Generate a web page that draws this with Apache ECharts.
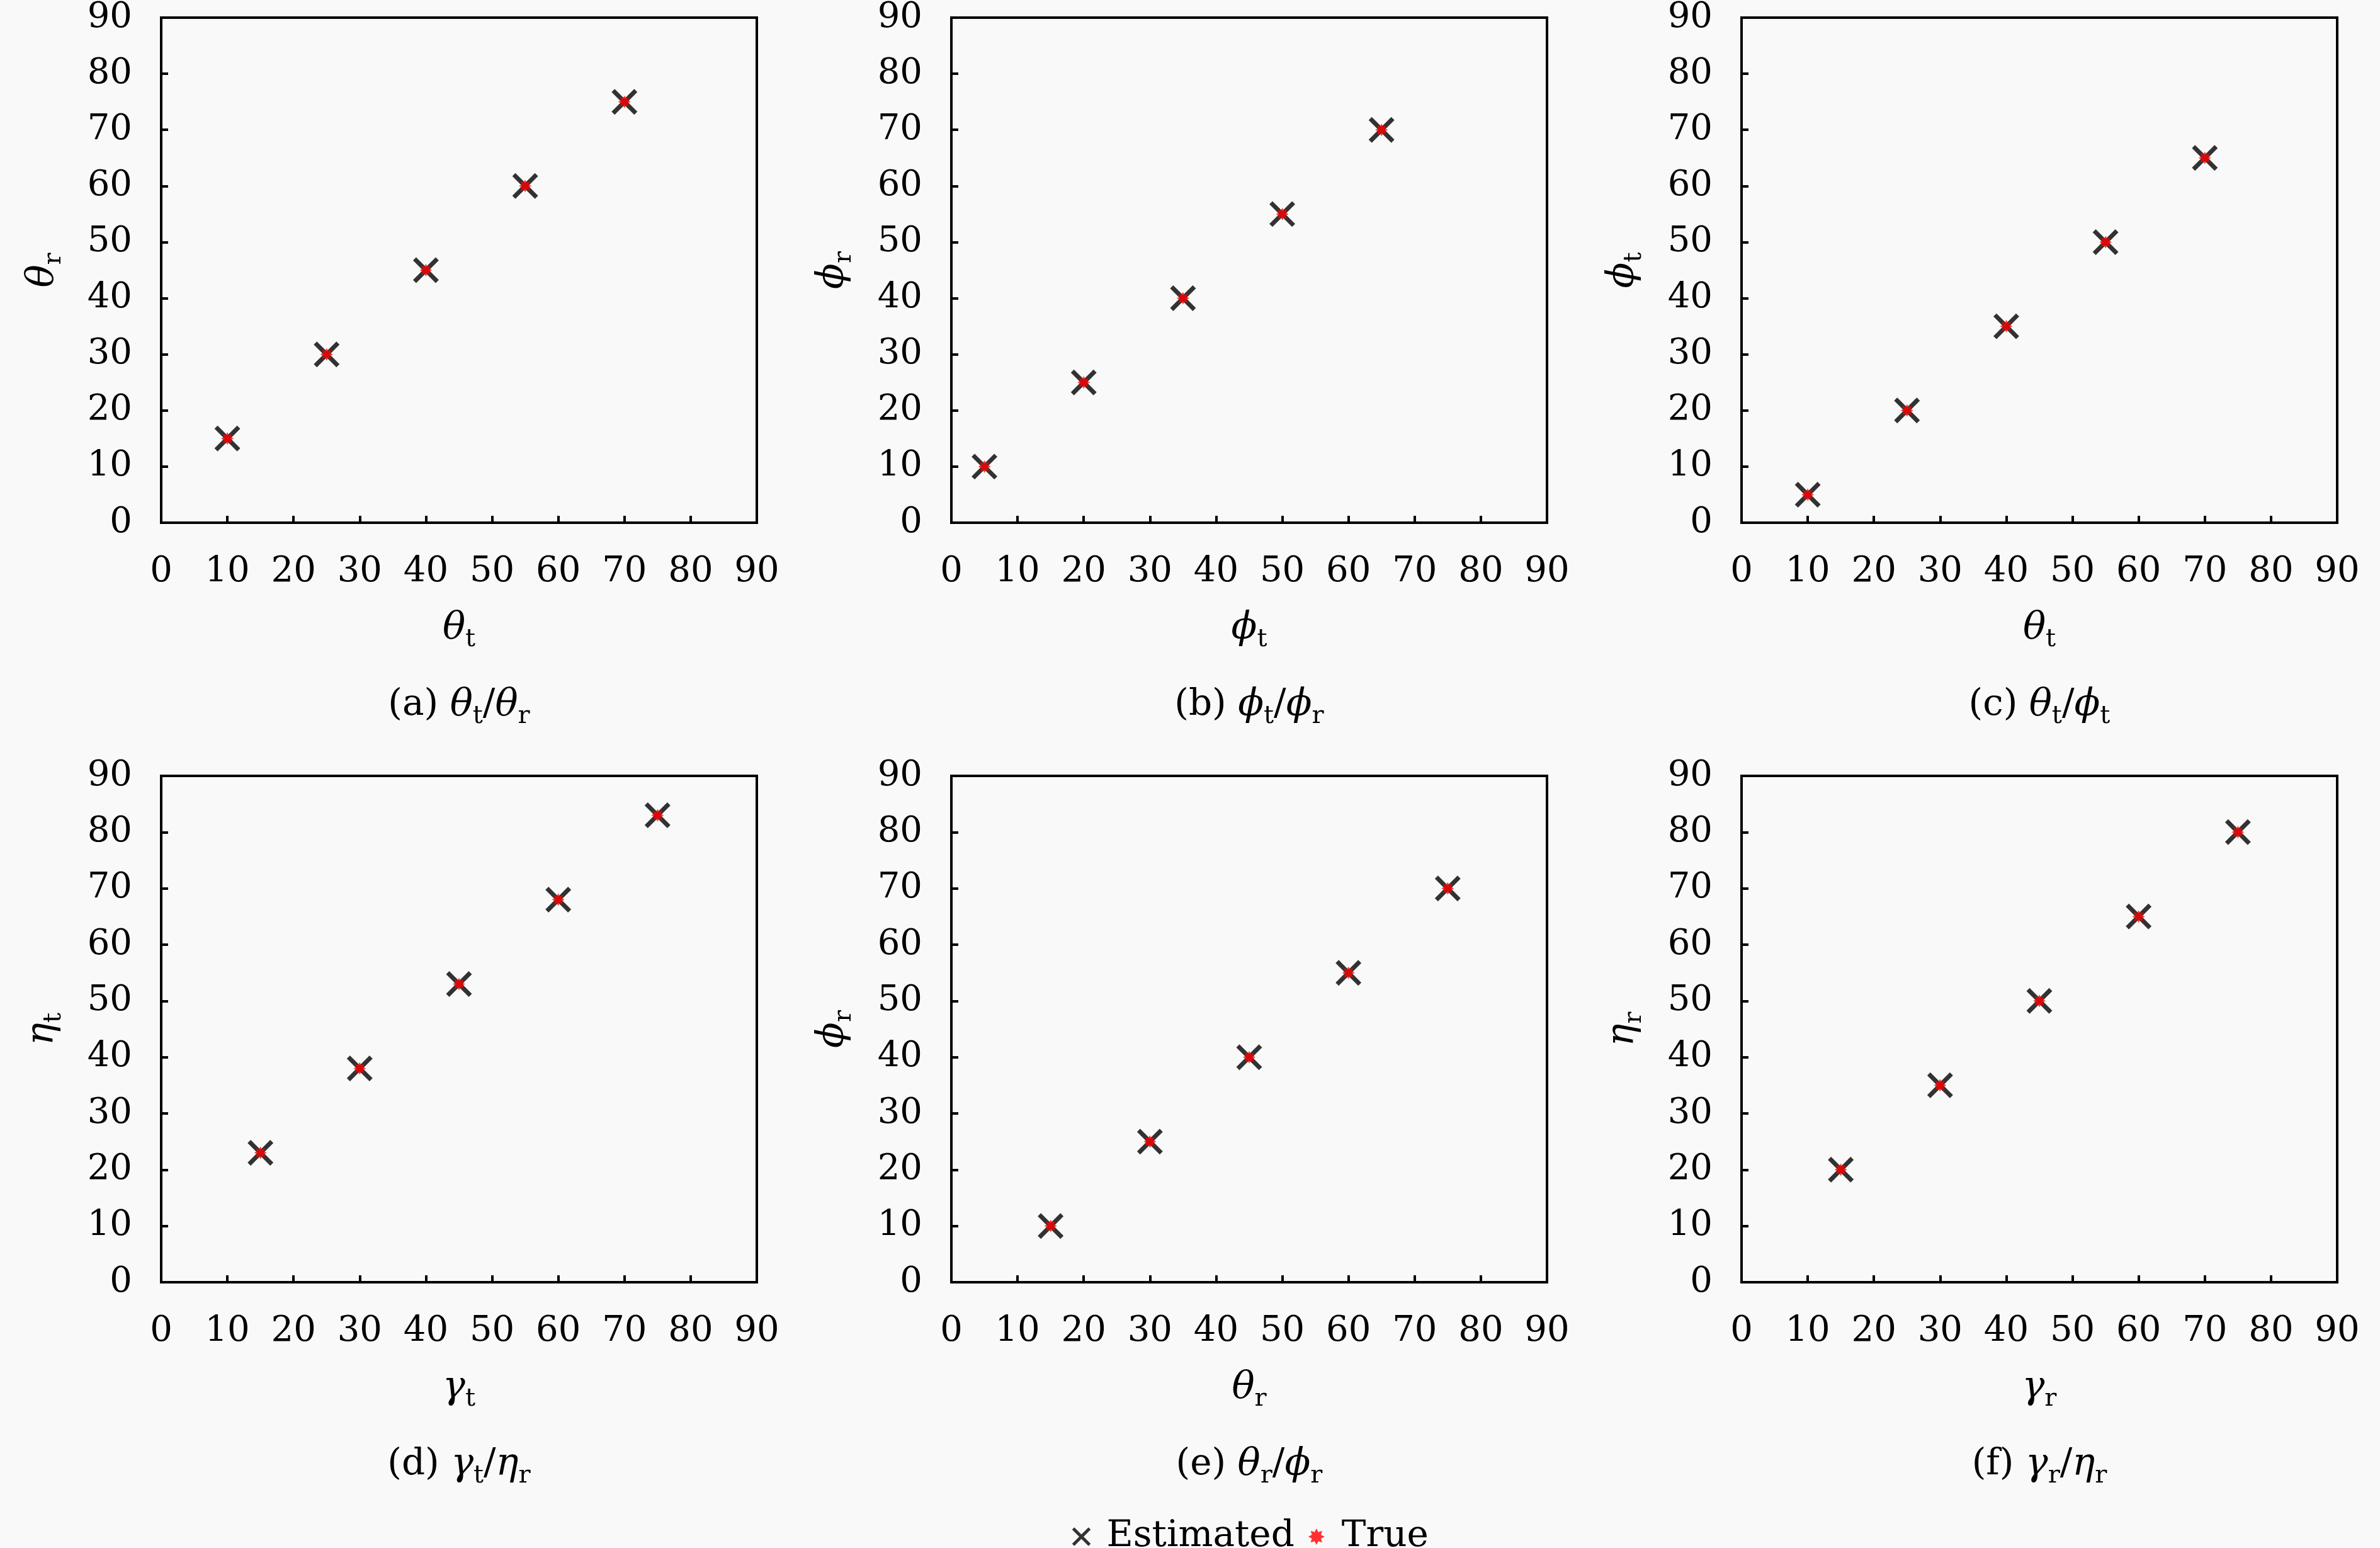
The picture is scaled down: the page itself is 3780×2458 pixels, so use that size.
<!DOCTYPE html>
<html><head><meta charset="utf-8">
<script src="https://cdn.jsdelivr.net/npm/echarts@6/dist/echarts.min.js"></script>
<style>html,body{margin:0;padding:0;background:#f9f9f9}#c{width:3780px;height:2458px}</style>
</head><body><div id="c"></div>
<script>
// ---- data ----
const estA = [[10,15],[25,30],[40,45],[55,60],[70,75]];
const trueA = [[10,15],[25,30],[40,45],[55,60],[70,75]];
const estB = [[5,10],[20,25],[35,40],[50,55],[65,70]];
const trueB = [[5,10],[20,25],[35,40],[50,55],[65,70]];
const estC = [[10,5],[25,20],[40,35],[55,50],[70,65]];
const trueC = [[10,5],[25,20],[40,35],[55,50],[70,65]];
const estD = [[15,23],[30,38],[45,53],[60,68],[75,83]];
const trueD = [[15,23],[30,38],[45,53],[60,68],[75,83]];
const estE = [[15,10],[30,25],[45,40],[60,55],[75,70]];
const trueE = [[15,10],[30,25],[45,40],[60,55],[75,70]];
const estF = [[15,20],[30,35],[45,50],[60,65],[75,80]];
const trueF = [[15,20],[30,35],[45,50],[60,65],[75,80]];
const estimated = [estA, estB, estC, estD, estE, estF];
const truth = [trueA, trueB, trueC, trueD, trueE, trueF];
const xNames = [['θ','t'],['ϕ','t'],['θ','t'],['γ','t'],['θ','r'],['γ','r']];
const yNames = [['θ','r'],['ϕ','r'],['ϕ','t'],['η','t'],['ϕ','r'],['η','r']];
const captionLetters = ['a','b','c','d','e','f'];
const captionParts = [[['θ','t'],['θ','r']],[['ϕ','t'],['ϕ','r']],[['θ','t'],['ϕ','t']],
                      [['γ','t'],['η','r']],[['θ','r'],['ϕ','r']],[['γ','r'],['η','r']]];
const axisMin = 0, axisMax = 90, axisStep = 10;
const seriesNames = ['Estimated','True'];

// ---- layout ----
const FONT = 'DejaVu Serif';
const colLefts = [256, 1511, 2766];
const rowTops = [26, 1232];
const W = 946, H = 804;
const rich = {
  g: {fontFamily: FONT, fontSize: 60, fontStyle: 'italic', color: '#000'},
  s: {fontFamily: FONT, fontSize: 40, color: '#000', padding: [36,0,0,0]},
  n: {fontFamily: FONT, fontSize: 58, color: '#000'}
};
function sym(p){ return '{g|' + p[0] + '}{s|' + p[1] + '}'; }

let starPath = 'path://';
for (let i = 0; i < 16; i++) {
  const r = i % 2 === 0 ? 10 : 6;
  const a = Math.PI * 2 * i / 16;
  starPath += (i === 0 ? 'M' : 'L') + (10 + r * Math.cos(a)).toFixed(3) + ',' + (10 + r * Math.sin(a)).toFixed(3);
}
starPath += 'Z';
const crossPath = 'path://M0,0L10,10M10,0L0,10';

const grids = [], xAxes = [], yAxes = [], series = [], graphics = [];
for (let i = 0; i < 6; i++) {
  const col = i % 3, row = Math.floor(i / 3);
  grids.push({left: colLefts[col], top: rowTops[row], width: W, height: H,
    show: true, borderColor: '#000', borderWidth: 4, backgroundColor: 'transparent'});
  const axisCommon = {
    gridIndex: i, type: 'value', min: axisMin, max: axisMax, interval: axisStep,
    axisLine: {show: true, lineStyle: {color: '#000', width: 4}},
    axisTick: {show: true, inside: true, length: 11, lineStyle: {color: '#000', width: 4}},
    splitLine: {show: false},
    axisLabel: {fontFamily: FONT, fontSize: 56, color: '#000'},
    nameLocation: 'middle', nameTextStyle: {rich: rich}
  };
  xAxes.push(Object.assign({}, axisCommon, {
    name: sym(xNames[i]), nameGap: 130,
    axisLabel: Object.assign({}, axisCommon.axisLabel, {margin: 50})
  }));
  yAxes.push(Object.assign({}, axisCommon, {
    name: sym(yNames[i]), nameGap: 150, nameRotate: 90,
    axisLabel: Object.assign({}, axisCommon.axisLabel, {margin: 46})
  }));
  series.push({
    name: seriesNames[0], type: 'scatter', xAxisIndex: i, yAxisIndex: i,
    data: estimated[i], symbol: crossPath, symbolSize: 36,
    itemStyle: {color: 'rgba(0,0,0,0)', borderColor: '#000', borderWidth: 7}, z: 2
  });
  series.push({
    name: seriesNames[1], type: 'scatter', xAxisIndex: i, yAxisIndex: i,
    data: truth[i], symbol: starPath, symbolSize: 20,
    itemStyle: {color: '#ff0000'}, z: 3
  });
  const cp = captionParts[i];
  graphics.push({
    type: 'text', x: colLefts[col] + W / 2, y: rowTops[row] + H + 290,
    style: {
      text: '{n|(' + captionLetters[i] + ') }' + sym(cp[0]) + '{n|/}' + sym(cp[1]),
      rich: rich, align: 'center', verticalAlign: 'middle'
    }
  });
}

const chart = echarts.init(document.getElementById('c'), null, {renderer: 'canvas'});
chart.setOption({
  backgroundColor: '#f9f9f9',
  animation: false,
  grid: grids, xAxis: xAxes, yAxis: yAxes, series: series, graphic: graphics,
  legend: {
    left: 1697, top: 2406, itemGap: 22,
    data: [
      {name: seriesNames[0], icon: crossPath, itemStyle: {color: 'rgba(0,0,0,0)', borderColor: '#000', borderWidth: 5}},
      {name: seriesNames[1], icon: starPath, itemStyle: {color: '#ff0000', borderWidth: 0}}
    ],
    itemWidth: 26, itemHeight: 26,
    textStyle: {fontFamily: FONT, fontSize: 58, color: '#000', padding: [0,0,0,22]}
  }
});
</script></body></html>
